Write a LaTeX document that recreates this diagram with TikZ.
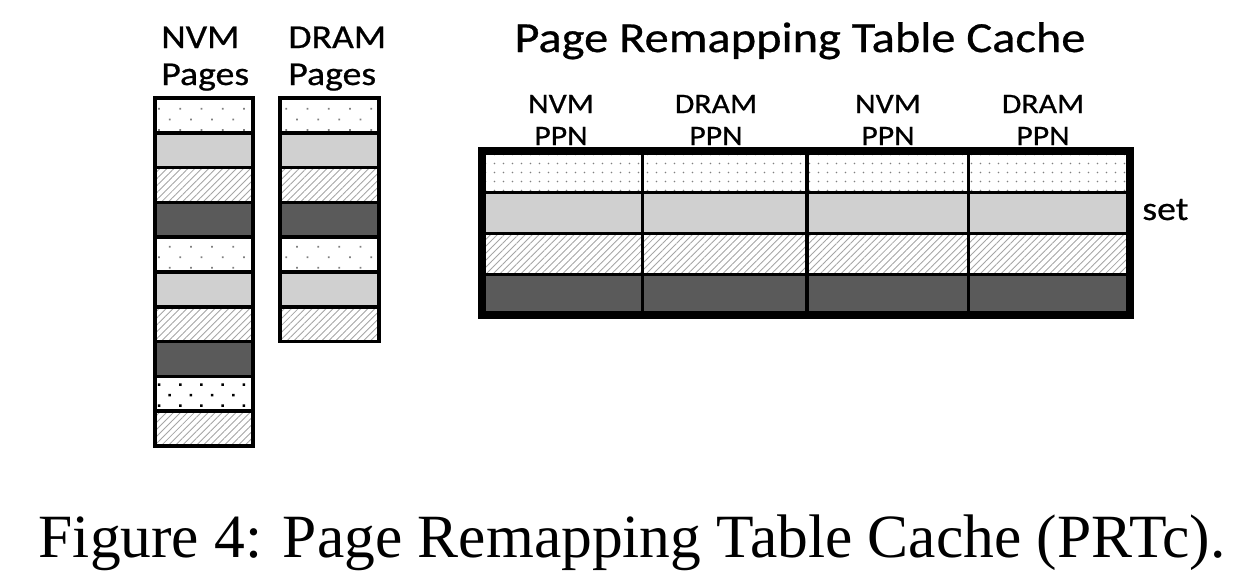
\documentclass[tikz,border=0pt]{standalone}
\usepackage{fontspec}
\setmainfont{Liberation Serif}
\newfontfamily\figfont[FakeBold=0.6]{Carlito}
\usetikzlibrary{patterns.meta}
\definecolor{lightcell}{RGB}{208,208,208}
\definecolor{darkcell}{RGB}{90,90,90}
\definecolor{hatchgray}{RGB}{165,165,165}
\newcommand{\widetxt}[1]{\scalebox{1.13}[1]{#1}}
\begin{document}
\begin{tikzpicture}[x=0.02cm,y=-0.02cm,
        label/.style={font=\figfont\fontsize{19}{21}\selectfont,inner sep=0pt},
        head/.style={font=\figfont\fontsize{16}{18}\selectfont,inner sep=0pt},
        dotcell/.style={pattern={Dots[distance=0.3cm,radius=0.7pt,angle=45]},pattern color=gray},
        bigdotcell/.style={pattern={Dots[distance=0.3cm,radius=1pt,angle=45]},pattern color=black},
        finedotcell/.style={pattern={Dots[distance=0.18cm,radius=0.55pt]},pattern color=gray},
        hatchcell/.style={pattern={Lines[angle=45,distance=2.8pt,line width=0.5pt]},pattern color=hatchgray},
        lightcell/.style={fill=lightcell},
        darkcell/.style={fill=darkcell},
        pageline/.style={line width=2pt},
        ]
        \useasboundingbox (0,0) rectangle (1254,586);
        \node[label,anchor=base west] (nvmA) at (161,48) {\widetxt{NVM}};
        \node[label,anchor=base west] (nvmB) at (161,85) {\widetxt{Pages}};
        \node[label,anchor=base west] (dramA) at (288,48) {\widetxt{DRAM}};
        \node[label,anchor=base west] (dramB) at (288,85) {\widetxt{Pages}};
        \node[font=\figfont\fontsize{24.4}{26}\selectfont,inner sep=0pt,anchor=base] (title) at (800,52) {\widetxt{Page Remapping Table Cache}};
        \foreach \k/\sty in {0/dotcell,1/lightcell,2/hatchcell,3/darkcell,4/dotcell,
                5/lightcell,6/hatchcell,7/darkcell,8/bigdotcell,9/hatchcell}
            \draw[pageline,\sty] (155,98+34.8*\k) rectangle (253,98+34.8*\k+34.8);
        \foreach \k/\sty in {0/dotcell,1/lightcell,2/hatchcell,3/darkcell,4/dotcell,5/lightcell,6/hatchcell}
            \draw[pageline,\sty] (280,98+34.8*\k) rectangle (379,98+34.8*\k+34.8);
        \foreach \x/\name/\hd in {561/h1/NVM,716/h2/DRAM,888/h3/NVM,1043/h4/DRAM}{
            \node[head,anchor=base] (\name a) at (\x,113) {\widetxt{\hd}};
            \node[head,anchor=base] (\name b) at (\x,145) {\widetxt{PPN}};
        }
        \foreach \xa/\xb in {482/642,642/807,807/968,968/1130}
            \foreach \k/\sty in {0/finedotcell,1/lightcell,2/hatchcell,3/darkcell}
                \draw[line width=1.7pt,\sty] (\xa,151+41*\k) rectangle (\xb,151+41*\k+41);
        \draw[line width=2.8pt] (807,151) -- (807,315);
        \draw[line width=4.5pt] (482,151) rectangle (1130,315);
        \node[label,anchor=base west] (set) at (1142,220) {\widetxt{set}};
        \node[font=\fontsize{35}{38}\selectfont,inner sep=0pt,anchor=base] (caption) at (632,557)
            {Figure 4: Page Remapping Table Cache (PRTc).};
\end{tikzpicture}
\end{document}
